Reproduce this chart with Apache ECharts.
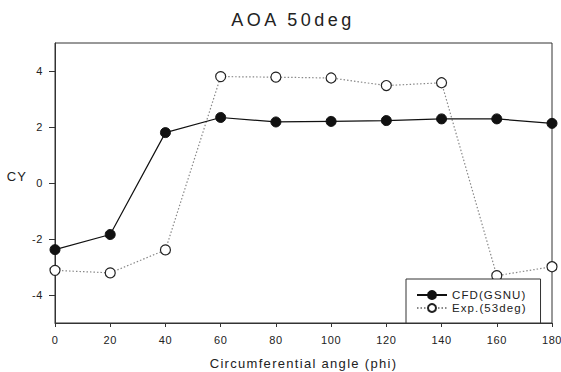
<!DOCTYPE html>
<html>
<head>
<meta charset="utf-8">
<script src="https://cdn.jsdelivr.net/npm/echarts@6/dist/echarts.min.js"></script>
<style>
  html, body { margin: 0; padding: 0; background: #fff; }
  #chart { width: 561px; height: 372px; }
  #chart svg text { letter-spacing: 1.1px; }
  #chart svg text[style*="11px"] { letter-spacing: 0.6px; }
  #chart svg text[style*="13px"] { letter-spacing: 1.3px; }
  #chart svg text[style*="18px"] { letter-spacing: 3.5px; }
</style>
</head>
<body>
<div id="chart"></div>
<script>
const angles = [0, 20, 40, 60, 80, 100, 120, 140, 160, 180];
const cfdValues = [-2.38, -1.84, 1.80, 2.34, 2.18, 2.20, 2.23, 2.29, 2.29, 2.13];
const expValues = [-3.12, -3.21, -2.39, 3.80, 3.78, 3.75, 3.48, 3.58, -3.31, -2.99];
const yTickValues = [-4, -2, 0, 2, 4];

const chart = echarts.init(document.getElementById('chart'), null, { renderer: 'svg' });
const font = 'Liberation Sans, Arial, sans-serif';

chart.setOption({
  animation: false,
  backgroundColor: '#fff',
  title: {
    text: 'AOA 50deg',
    left: 288, top: 6, textAlign: 'center',
    textStyle: { fontFamily: font, fontSize: 18, fontWeight: 'normal', color: '#222' }
  },
  grid: {
    left: 55, right: 9, top: 43, bottom: 49,
    outerBoundsMode: 'none', containLabel: false,
    show: true, borderColor: '#333', borderWidth: 1, backgroundColor: 'transparent'
  },
  legend: {
    left: 406, top: 279, orient: 'vertical',
    padding: [10, 24, 9, 10],
    itemGap: 1, itemWidth: 30, itemHeight: 10,
    borderColor: '#333', borderWidth: 1, borderRadius: 0,
    backgroundColor: '#fff',
    textStyle: { fontFamily: font, fontSize: 11.5, color: '#222' },
    data: ['CFD(GSNU)', 'Exp.(53deg)']
  },
  xAxis: {
    type: 'value', min: 0, max: 180, interval: 20,
    name: 'Circumferential angle (phi)', nameLocation: 'middle', nameGap: 34,
    nameTextStyle: { fontFamily: font, fontSize: 13, color: '#222' },
    axisLine: { onZero: false, lineStyle: { color: '#333', width: 1 } },
    axisTick: { show: true, length: 4, inside: false, lineStyle: { color: '#333' } },
    axisLabel: { fontFamily: font, fontSize: 11, color: '#222', margin: 11 },
    splitLine: { show: false }
  },
  yAxis: {
    type: 'value', min: -5, max: 5, interval: 1,
    name: 'CY', nameLocation: 'middle', nameGap: 27, nameRotate: 0,
    nameTextStyle: { fontFamily: font, fontSize: 13, color: '#222', verticalAlign: 'bottom', align: 'right' },
    axisLine: { show: true, onZero: false, lineStyle: { color: '#333', width: 1 } },
    axisTick: { show: true, length: 6, inside: false, customValues: yTickValues, lineStyle: { color: '#333' } },
    axisLabel: { fontFamily: font, fontSize: 11, color: '#222', margin: 12, customValues: yTickValues },
    splitLine: { show: false }
  },
  series: [
    {
      name: 'CFD(GSNU)', type: 'line',
      data: angles.map((a, i) => [a, cfdValues[i]]),
      symbol: 'circle', symbolSize: 10,
      lineStyle: { color: '#111', width: 1.2, type: 'solid' },
      itemStyle: { color: '#111', borderColor: '#111', borderWidth: 1 },
      z: 3
    },
    {
      name: 'Exp.(53deg)', type: 'line',
      data: angles.map((a, i) => [a, expValues[i]]),
      symbol: 'circle', symbolSize: 10,
      lineStyle: { color: '#888', width: 1.2, type: [1.5, 2] },
      itemStyle: { color: '#fff', borderColor: '#222', borderWidth: 1.2 },
      z: 2
    }
  ]
});
</script>
</body>
</html>
